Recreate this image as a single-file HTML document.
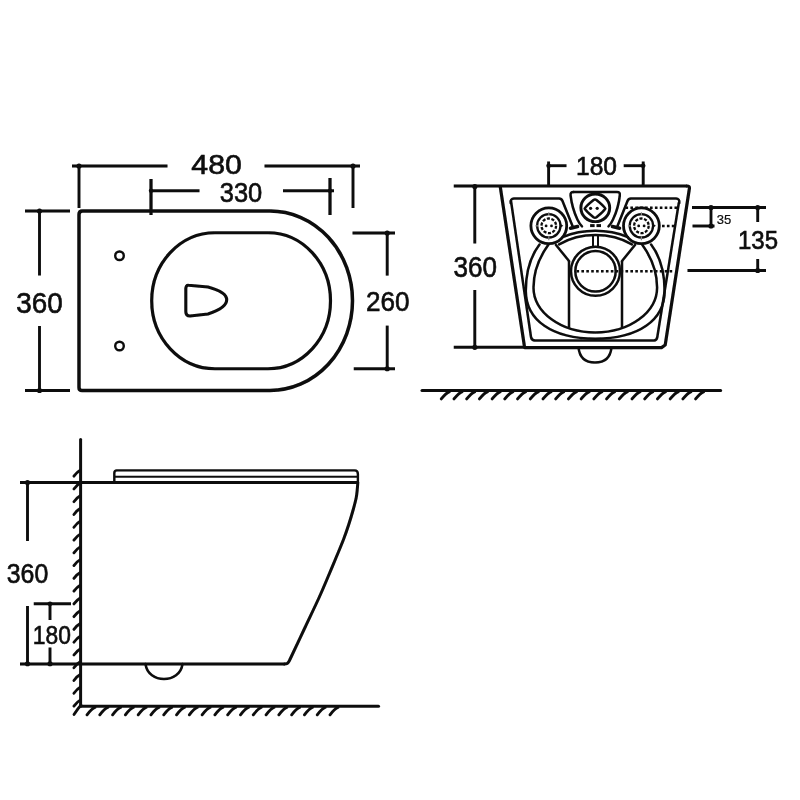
<!DOCTYPE html>
<html><head><meta charset="utf-8"><title>Wall hung toilet dimensions</title>
<style>
html,body{margin:0;padding:0;background:#fff;}
body{width:800px;height:800px;overflow:hidden;}
svg{display:block;will-change:transform;transform:translateZ(0);font-family:"Liberation Sans",Arial,Helvetica,sans-serif;}
</style></head><body>
<svg width="800" height="800" viewBox="0 0 800 800">
<defs><filter id="soft" x="0" y="0" width="800" height="800" filterUnits="userSpaceOnUse"><feGaussianBlur stdDeviation="0.45"/></filter></defs>
<rect width="800" height="800" fill="#ffffff"/>
<g filter="url(#soft)">
<path d="M82.5,211 L270,211 A82.5,89.75 0 0 1 270,390.5 L82,390.5 Q79,390.5 79,387.5 L79,214.5 Q79,211 82.5,211 Z" fill="none" stroke="#0a0a0a" stroke-width="3.5" stroke-linejoin="round" stroke-linecap="round" />
<path d="M215,232.75 L268,232.75 A62.5,68 0 0 1 268,368.75 L215,368.75 A63.3,68 0 0 1 215,232.75 Z" fill="none" stroke="#0a0a0a" stroke-width="3.2" stroke-linejoin="round" stroke-linecap="round" />
<path d="M188.5,285.3 L208,287 Q226.7,292 226.7,299.8 Q226.7,308 208,314 L190,316 Q185.8,316 185.8,311.5 L185.8,289 Q185.8,285 188.5,285.3 Z" fill="none" stroke="#0a0a0a" stroke-width="3.1" stroke-linejoin="round" stroke-linecap="round" />
<circle cx="119.5" cy="255.75" r="4.3" fill="none" stroke="#0a0a0a" stroke-width="2.4" />
<circle cx="119.5" cy="346" r="4.3" fill="none" stroke="#0a0a0a" stroke-width="2.4" />
<line x1="72" y1="166" x2="167.5" y2="166" stroke="#0a0a0a" stroke-width="2.9" stroke-linecap="butt"/>
<line x1="264.5" y1="166" x2="360" y2="166" stroke="#0a0a0a" stroke-width="2.9" stroke-linecap="butt"/>
<line x1="79" y1="166" x2="79" y2="208" stroke="#0a0a0a" stroke-width="2.9" stroke-linecap="butt"/>
<line x1="353" y1="166" x2="353" y2="208" stroke="#0a0a0a" stroke-width="2.9" stroke-linecap="butt"/>
<circle cx="79" cy="166" r="2.6" fill="#0a0a0a"/>
<circle cx="353" cy="166" r="2.6" fill="#0a0a0a"/>
<line x1="151" y1="190.75" x2="199.5" y2="190.75" stroke="#0a0a0a" stroke-width="2.9" stroke-linecap="butt"/>
<line x1="283" y1="190.75" x2="334" y2="190.75" stroke="#0a0a0a" stroke-width="2.9" stroke-linecap="butt"/>
<line x1="151" y1="179" x2="151" y2="215" stroke="#0a0a0a" stroke-width="3.2" stroke-linecap="butt"/>
<line x1="330" y1="178" x2="330" y2="215" stroke="#0a0a0a" stroke-width="3.2" stroke-linecap="butt"/>
<circle cx="151" cy="190.75" r="2.2" fill="#0a0a0a"/>
<circle cx="330" cy="190.75" r="2.2" fill="#0a0a0a"/>
<line x1="25" y1="211" x2="70" y2="211" stroke="#0a0a0a" stroke-width="2.9" stroke-linecap="butt"/>
<line x1="25" y1="390.5" x2="70" y2="390.5" stroke="#0a0a0a" stroke-width="2.9" stroke-linecap="butt"/>
<line x1="39.5" y1="211" x2="39.5" y2="275.5" stroke="#0a0a0a" stroke-width="2.9" stroke-linecap="butt"/>
<line x1="39.5" y1="326" x2="39.5" y2="390.5" stroke="#0a0a0a" stroke-width="2.9" stroke-linecap="butt"/>
<circle cx="39.5" cy="211" r="2.6" fill="#0a0a0a"/>
<circle cx="39.5" cy="390.5" r="2.6" fill="#0a0a0a"/>
<line x1="352.5" y1="233" x2="395" y2="233" stroke="#0a0a0a" stroke-width="2.9" stroke-linecap="butt"/>
<line x1="353.75" y1="368.75" x2="395" y2="368.75" stroke="#0a0a0a" stroke-width="2.9" stroke-linecap="butt"/>
<line x1="387.2" y1="233" x2="387.2" y2="275.6" stroke="#0a0a0a" stroke-width="2.9" stroke-linecap="butt"/>
<line x1="387.2" y1="325.6" x2="387.2" y2="368.75" stroke="#0a0a0a" stroke-width="2.9" stroke-linecap="butt"/>
<circle cx="387.2" cy="233" r="2.6" fill="#0a0a0a"/>
<circle cx="387.2" cy="368.75" r="2.6" fill="#0a0a0a"/>
<text x="216.6" y="174.2" font-size="27.5" text-anchor="middle" font-weight="normal" fill="#0a0a0a" stroke="#0a0a0a" stroke-width="0.6" textLength="50.5" lengthAdjust="spacingAndGlyphs">480</text>
<text x="241" y="202" font-size="28" text-anchor="middle" font-weight="normal" fill="#0a0a0a" stroke="#0a0a0a" stroke-width="0.6" textLength="42.5" lengthAdjust="spacingAndGlyphs">330</text>
<text x="39.4" y="313.0" font-size="30" text-anchor="middle" font-weight="normal" fill="#0a0a0a" stroke="#0a0a0a" stroke-width="0.6" textLength="46.5" lengthAdjust="spacingAndGlyphs">360</text>
<text x="387.8" y="311.2" font-size="28" text-anchor="middle" font-weight="normal" fill="#0a0a0a" stroke="#0a0a0a" stroke-width="0.6" textLength="43.5" lengthAdjust="spacingAndGlyphs">260</text>
<line x1="453.75" y1="186" x2="687" y2="186" stroke="#0a0a0a" stroke-width="3.0" stroke-linecap="butt"/>
<path d="M500.3,187 L524.6,347.6 L661.5,347.6 L665.2,345 L689.4,188.5 Q689.8,186 687,186" fill="none" stroke="#0a0a0a" stroke-width="3.2" stroke-linejoin="round" stroke-linecap="round" />
<line x1="453.75" y1="347.3" x2="524.4" y2="347.3" stroke="#0a0a0a" stroke-width="2.9" stroke-linecap="butt"/>
<path d="M511,201 L531,337 Q531.5,340.4 535,340.4 L654,340.4 Q656.8,340.4 657.3,337 L678.8,203" fill="none" stroke="#0a0a0a" stroke-width="2.5" stroke-linejoin="round" stroke-linecap="round" />
<path d="M510.7,203 Q510.2,198.5 514,198.5 L559,198.5 Q561.5,198.5 562.5,201 L572.5,226" fill="none" stroke="#0a0a0a" stroke-width="2.5" stroke-linejoin="round" stroke-linecap="round" />
<path d="M679.3,203 Q679.8,198.5 676,198.5 L631,198.5 Q628.5,198.5 627.5,201 L617.5,226" fill="none" stroke="#0a0a0a" stroke-width="2.5" stroke-linejoin="round" stroke-linecap="round" />
<line x1="570.5" y1="228.2" x2="577.5" y2="226.6" stroke="#0a0a0a" stroke-width="3.6" stroke-linecap="round"/>
<line x1="619.5" y1="228.2" x2="612.5" y2="226.6" stroke="#0a0a0a" stroke-width="3.6" stroke-linecap="round"/>
<path d="M573.5,191.9 L617,191.9 Q620.3,191.9 619.8,195.5 Q618.5,208 613,219.5 Q611,224 608.5,226.3" fill="none" stroke="#0a0a0a" stroke-width="2.5" stroke-linejoin="round" stroke-linecap="round" />
<path d="M573.5,191.9 Q570.2,191.9 570.6,195.5 Q572,208 577.4,219.5 Q579.5,224 582,226.3" fill="none" stroke="#0a0a0a" stroke-width="2.5" stroke-linejoin="round" stroke-linecap="round" />
<path d="M605.49,217.60 Q601.27,221.66 595.30,221.66 Q589.33,221.66 585.11,217.60 Q580.89,213.54 580.89,207.80 Q580.89,202.06 585.11,198.00 Q589.33,193.94 595.30,193.94 Q601.27,193.94 605.49,198.00 Q609.71,202.06 609.71,207.80 Q609.71,213.54 605.49,217.60 Z" fill="none" stroke="#0a0a0a" stroke-width="2.9" stroke-linejoin="round" stroke-linecap="round" />
<path d="M584.7,208.6 Q586.0,206.1 593.5,200.0 Q595.0,199.0 596.5,200.0 Q604.0,206.1 605.3,208.6 Q604.0,211.1 596.5,217.2 Q595.0,218.2 593.5,217.2 Q586.0,211.1 584.7,208.6 Z" fill="none" stroke="#0a0a0a" stroke-width="2.5" stroke-linejoin="round" stroke-linecap="round" />
<circle cx="590.6" cy="208.3" r="1.6" fill="#0a0a0a"/>
<circle cx="597.2" cy="208.3" r="1.6" fill="#0a0a0a"/>
<line x1="590.1" y1="225.6" x2="594.6" y2="225.6" stroke="#0a0a0a" stroke-width="3.0" stroke-linecap="butt"/>
<line x1="596.5" y1="225.6" x2="601" y2="225.6" stroke="#0a0a0a" stroke-width="3.0" stroke-linecap="butt"/>
<circle cx="548.8" cy="225.8" r="17.9" fill="none" stroke="#0a0a0a" stroke-width="2.8" />
<circle cx="548.8" cy="225.8" r="11.7" fill="none" stroke="#0a0a0a" stroke-width="2.3" />
<circle cx="548.8" cy="225.8" r="7.3" fill="none" stroke="#0a0a0a" stroke-width="2.3" stroke-dasharray="3.1 1.5"/>
<circle cx="546.0999999999999" cy="225.9" r="1.4" fill="#0a0a0a"/>
<circle cx="551.5" cy="225.9" r="1.4" fill="#0a0a0a"/>
<path d="M559.8,223.60000000000002 L563.3,225.8 L559.8,228.0 Z" fill="#0a0a0a"/>
<path d="M548.8,212.3 v3 M548.8,236.3 v4 M535.3,225.8 h3" stroke="#888" stroke-width="1.2" fill="none"/>
<circle cx="641.4" cy="225.8" r="17.9" fill="none" stroke="#0a0a0a" stroke-width="2.8" />
<circle cx="641.4" cy="225.8" r="11.7" fill="none" stroke="#0a0a0a" stroke-width="2.3" />
<circle cx="641.4" cy="225.8" r="7.3" fill="none" stroke="#0a0a0a" stroke-width="2.3" stroke-dasharray="3.1 1.5"/>
<circle cx="638.6999999999999" cy="225.9" r="1.4" fill="#0a0a0a"/>
<circle cx="644.1" cy="225.9" r="1.4" fill="#0a0a0a"/>
<path d="M652.4,223.60000000000002 L655.9,225.8 L652.4,228.0 Z" fill="#0a0a0a"/>
<path d="M641.4,212.3 v3 M641.4,236.3 v4 M627.9,225.8 h3" stroke="#888" stroke-width="1.2" fill="none"/>
<path d="M627.93,237.07 A69.5,53.6 0 0 0 562.67,237.07" fill="none" stroke="#0a0a0a" stroke-width="2.5" stroke-linejoin="round" stroke-linecap="round" />
<path d="M631.94,244.32 A62,48.8 0 0 0 559.06,244.32" fill="none" stroke="#0a0a0a" stroke-width="2.5" stroke-linejoin="round" stroke-linecap="round" />
<path d="M539.5,244.5 C530,257 525.8,274 525.8,291 C526,320.23 552.05,338.75 595.3,338.75 C638.54,338.75 664.5999999999999,320.23 664.5999999999999,291 C664.5999999999999,274 660.5999999999999,257 651.0999999999999,244.5" fill="none" stroke="#0a0a0a" stroke-width="2.5" stroke-linejoin="round" stroke-linecap="round" />
<path d="M548.5,244.5 C539.5,257 533.5,272 533.5,287.5 C533.5,312.35 560.92,332.5 595.3,332.5 C629.68,332.5 657.0999999999999,312.35 657.0999999999999,287.5 C657.0999999999999,272 651.0999999999999,257 642.0999999999999,244.5" fill="none" stroke="#0a0a0a" stroke-width="2.5" stroke-linejoin="round" stroke-linecap="round" />
<line x1="593" y1="235" x2="593" y2="246" stroke="#0a0a0a" stroke-width="2.0" stroke-linecap="butt"/>
<line x1="598" y1="235" x2="598" y2="246" stroke="#0a0a0a" stroke-width="2.0" stroke-linecap="butt"/>
<circle cx="595.5" cy="271.25" r="24.5" fill="none" stroke="#0a0a0a" stroke-width="2.5" />
<circle cx="595.5" cy="271.25" r="20.2" fill="none" stroke="#0a0a0a" stroke-width="2.5" />
<line x1="556" y1="245" x2="569" y2="261" stroke="#0a0a0a" stroke-width="2.5" stroke-linecap="round"/>
<line x1="635" y1="245" x2="622" y2="261" stroke="#0a0a0a" stroke-width="2.5" stroke-linecap="round"/>
<line x1="569" y1="261" x2="569" y2="327.8" stroke="#0a0a0a" stroke-width="2.5" stroke-linecap="butt"/>
<line x1="622" y1="261" x2="622" y2="327.8" stroke="#0a0a0a" stroke-width="2.5" stroke-linecap="butt"/>
<line x1="576.5" y1="271.25" x2="672.5" y2="271.25" stroke="#0a0a0a" stroke-width="2.6" stroke-dasharray="2.6 2.3"/>
<line x1="625.5" y1="207.8" x2="679" y2="207.8" stroke="#0a0a0a" stroke-width="2.6" stroke-dasharray="2.6 2.3"/>
<line x1="662" y1="226" x2="676" y2="226" stroke="#0a0a0a" stroke-width="2.6" stroke-dasharray="2.6 2.3"/>
<path d="M578.5,347.3 Q580,362.5 595,362.5 Q610,362.5 611.5,347.3" fill="none" stroke="#0a0a0a" stroke-width="2.5" stroke-linejoin="round" stroke-linecap="round" />
<line x1="548.6" y1="161.5" x2="548.6" y2="186" stroke="#0a0a0a" stroke-width="2.9" stroke-linecap="butt"/>
<line x1="643.2" y1="161.5" x2="643.2" y2="186" stroke="#0a0a0a" stroke-width="2.9" stroke-linecap="butt"/>
<line x1="548.6" y1="165.7" x2="566.5" y2="165.7" stroke="#0a0a0a" stroke-width="2.9" stroke-linecap="butt"/>
<line x1="623.7" y1="165.7" x2="643.2" y2="165.7" stroke="#0a0a0a" stroke-width="2.9" stroke-linecap="butt"/>
<circle cx="548.6" cy="165.7" r="2.3" fill="#0a0a0a"/>
<circle cx="643.2" cy="165.7" r="2.3" fill="#0a0a0a"/>
<line x1="474.8" y1="186" x2="474.8" y2="243.5" stroke="#0a0a0a" stroke-width="2.9" stroke-linecap="butt"/>
<line x1="474.8" y1="290" x2="474.8" y2="347.3" stroke="#0a0a0a" stroke-width="2.9" stroke-linecap="butt"/>
<circle cx="474.8" cy="186.5" r="2.6" fill="#0a0a0a"/>
<circle cx="474.8" cy="347.3" r="2.6" fill="#0a0a0a"/>
<line x1="692" y1="207.5" x2="766" y2="207.5" stroke="#0a0a0a" stroke-width="2.9" stroke-linecap="butt"/>
<line x1="692.5" y1="226" x2="714.5" y2="226" stroke="#0a0a0a" stroke-width="2.9" stroke-linecap="butt"/>
<line x1="687.5" y1="270.5" x2="766" y2="270.5" stroke="#0a0a0a" stroke-width="2.9" stroke-linecap="butt"/>
<line x1="711" y1="207.5" x2="711" y2="226" stroke="#0a0a0a" stroke-width="2.8" stroke-linecap="butt"/>
<circle cx="711" cy="207.5" r="2.6" fill="#0a0a0a"/>
<circle cx="711" cy="226" r="2.6" fill="#0a0a0a"/>
<line x1="757.7" y1="207.5" x2="757.7" y2="222" stroke="#0a0a0a" stroke-width="2.9" stroke-linecap="butt"/>
<line x1="757.7" y1="259" x2="757.7" y2="270.5" stroke="#0a0a0a" stroke-width="2.9" stroke-linecap="butt"/>
<circle cx="757.7" cy="207.5" r="2.6" fill="#0a0a0a"/>
<circle cx="757.7" cy="270.5" r="2.6" fill="#0a0a0a"/>
<text x="596.5" y="175.2" font-size="25.5" text-anchor="middle" font-weight="normal" fill="#0a0a0a" stroke="#0a0a0a" stroke-width="0.6" textLength="41" lengthAdjust="spacingAndGlyphs">180</text>
<text x="475.3" y="277.4" font-size="29" text-anchor="middle" font-weight="normal" fill="#0a0a0a" stroke="#0a0a0a" stroke-width="0.6" textLength="43.5" lengthAdjust="spacingAndGlyphs">360</text>
<text x="724" y="224.4" font-size="12" text-anchor="middle" font-weight="normal" fill="#0a0a0a" stroke="#0a0a0a" stroke-width="0.15" textLength="14.5" lengthAdjust="spacingAndGlyphs">35</text>
<text x="758" y="249.1" font-size="25.5" text-anchor="middle" font-weight="normal" fill="#0a0a0a" stroke="#0a0a0a" stroke-width="0.6" textLength="40" lengthAdjust="spacingAndGlyphs">135</text>
<line x1="422" y1="390.6" x2="720.6" y2="390.6" stroke="#0a0a0a" stroke-width="3.0" stroke-linecap="round"/>
<path d="M449.25,391.8 Q446.45,392.6 441.25,398.9" fill="none" stroke="#0a0a0a" stroke-width="2.9" stroke-linejoin="round" stroke-linecap="round" />
<path d="M461.97,391.8 Q459.17,392.6 453.97,398.9" fill="none" stroke="#0a0a0a" stroke-width="2.9" stroke-linejoin="round" stroke-linecap="round" />
<path d="M474.69,391.8 Q471.88,392.6 466.69,398.9" fill="none" stroke="#0a0a0a" stroke-width="2.9" stroke-linejoin="round" stroke-linecap="round" />
<path d="M487.40,391.8 Q484.60,392.6 479.40,398.9" fill="none" stroke="#0a0a0a" stroke-width="2.9" stroke-linejoin="round" stroke-linecap="round" />
<path d="M500.12,391.8 Q497.32,392.6 492.12,398.9" fill="none" stroke="#0a0a0a" stroke-width="2.9" stroke-linejoin="round" stroke-linecap="round" />
<path d="M512.84,391.8 Q510.04,392.6 504.84,398.9" fill="none" stroke="#0a0a0a" stroke-width="2.9" stroke-linejoin="round" stroke-linecap="round" />
<path d="M525.56,391.8 Q522.76,392.6 517.56,398.9" fill="none" stroke="#0a0a0a" stroke-width="2.9" stroke-linejoin="round" stroke-linecap="round" />
<path d="M538.27,391.8 Q535.47,392.6 530.27,398.9" fill="none" stroke="#0a0a0a" stroke-width="2.9" stroke-linejoin="round" stroke-linecap="round" />
<path d="M550.99,391.8 Q548.19,392.6 542.99,398.9" fill="none" stroke="#0a0a0a" stroke-width="2.9" stroke-linejoin="round" stroke-linecap="round" />
<path d="M563.71,391.8 Q560.91,392.6 555.71,398.9" fill="none" stroke="#0a0a0a" stroke-width="2.9" stroke-linejoin="round" stroke-linecap="round" />
<path d="M576.42,391.8 Q573.62,392.6 568.42,398.9" fill="none" stroke="#0a0a0a" stroke-width="2.9" stroke-linejoin="round" stroke-linecap="round" />
<path d="M589.14,391.8 Q586.34,392.6 581.14,398.9" fill="none" stroke="#0a0a0a" stroke-width="2.9" stroke-linejoin="round" stroke-linecap="round" />
<path d="M601.86,391.8 Q599.06,392.6 593.86,398.9" fill="none" stroke="#0a0a0a" stroke-width="2.9" stroke-linejoin="round" stroke-linecap="round" />
<path d="M614.58,391.8 Q611.78,392.6 606.58,398.9" fill="none" stroke="#0a0a0a" stroke-width="2.9" stroke-linejoin="round" stroke-linecap="round" />
<path d="M627.30,391.8 Q624.50,392.6 619.30,398.9" fill="none" stroke="#0a0a0a" stroke-width="2.9" stroke-linejoin="round" stroke-linecap="round" />
<path d="M640.01,391.8 Q637.21,392.6 632.01,398.9" fill="none" stroke="#0a0a0a" stroke-width="2.9" stroke-linejoin="round" stroke-linecap="round" />
<path d="M652.73,391.8 Q649.93,392.6 644.73,398.9" fill="none" stroke="#0a0a0a" stroke-width="2.9" stroke-linejoin="round" stroke-linecap="round" />
<path d="M665.45,391.8 Q662.65,392.6 657.45,398.9" fill="none" stroke="#0a0a0a" stroke-width="2.9" stroke-linejoin="round" stroke-linecap="round" />
<path d="M678.16,391.8 Q675.37,392.6 670.16,398.9" fill="none" stroke="#0a0a0a" stroke-width="2.9" stroke-linejoin="round" stroke-linecap="round" />
<path d="M690.88,391.8 Q688.08,392.6 682.88,398.9" fill="none" stroke="#0a0a0a" stroke-width="2.9" stroke-linejoin="round" stroke-linecap="round" />
<path d="M703.60,391.8 Q700.80,392.6 695.60,398.9" fill="none" stroke="#0a0a0a" stroke-width="2.9" stroke-linejoin="round" stroke-linecap="round" />
<line x1="80.6" y1="439.5" x2="80.6" y2="706" stroke="#0a0a0a" stroke-width="3.0" stroke-linecap="round"/>
<line x1="80.6" y1="706.2" x2="378.5" y2="706.2" stroke="#0a0a0a" stroke-width="3.0" stroke-linecap="round"/>
<path d="M80.6,470.00 Q77,472.00 73.9,476.20" fill="none" stroke="#0a0a0a" stroke-width="2.8" stroke-linejoin="round" stroke-linecap="round" />
<path d="M80.6,482.77 Q77,484.77 73.9,488.97" fill="none" stroke="#0a0a0a" stroke-width="2.8" stroke-linejoin="round" stroke-linecap="round" />
<path d="M80.6,495.54 Q77,497.54 73.9,501.74" fill="none" stroke="#0a0a0a" stroke-width="2.8" stroke-linejoin="round" stroke-linecap="round" />
<path d="M80.6,508.31 Q77,510.31 73.9,514.51" fill="none" stroke="#0a0a0a" stroke-width="2.8" stroke-linejoin="round" stroke-linecap="round" />
<path d="M80.6,521.08 Q77,523.08 73.9,527.28" fill="none" stroke="#0a0a0a" stroke-width="2.8" stroke-linejoin="round" stroke-linecap="round" />
<path d="M80.6,533.85 Q77,535.85 73.9,540.05" fill="none" stroke="#0a0a0a" stroke-width="2.8" stroke-linejoin="round" stroke-linecap="round" />
<path d="M80.6,546.62 Q77,548.62 73.9,552.82" fill="none" stroke="#0a0a0a" stroke-width="2.8" stroke-linejoin="round" stroke-linecap="round" />
<path d="M80.6,559.39 Q77,561.39 73.9,565.59" fill="none" stroke="#0a0a0a" stroke-width="2.8" stroke-linejoin="round" stroke-linecap="round" />
<path d="M80.6,572.16 Q77,574.16 73.9,578.36" fill="none" stroke="#0a0a0a" stroke-width="2.8" stroke-linejoin="round" stroke-linecap="round" />
<path d="M80.6,584.93 Q77,586.93 73.9,591.13" fill="none" stroke="#0a0a0a" stroke-width="2.8" stroke-linejoin="round" stroke-linecap="round" />
<path d="M80.6,597.70 Q77,599.70 73.9,603.90" fill="none" stroke="#0a0a0a" stroke-width="2.8" stroke-linejoin="round" stroke-linecap="round" />
<path d="M80.6,610.47 Q77,612.47 73.9,616.67" fill="none" stroke="#0a0a0a" stroke-width="2.8" stroke-linejoin="round" stroke-linecap="round" />
<path d="M80.6,623.24 Q77,625.24 73.9,629.44" fill="none" stroke="#0a0a0a" stroke-width="2.8" stroke-linejoin="round" stroke-linecap="round" />
<path d="M80.6,636.01 Q77,638.01 73.9,642.21" fill="none" stroke="#0a0a0a" stroke-width="2.8" stroke-linejoin="round" stroke-linecap="round" />
<path d="M80.6,648.78 Q77,650.78 73.9,654.98" fill="none" stroke="#0a0a0a" stroke-width="2.8" stroke-linejoin="round" stroke-linecap="round" />
<path d="M80.6,661.55 Q77,663.55 73.9,667.75" fill="none" stroke="#0a0a0a" stroke-width="2.8" stroke-linejoin="round" stroke-linecap="round" />
<path d="M80.6,674.32 Q77,676.32 73.9,680.52" fill="none" stroke="#0a0a0a" stroke-width="2.8" stroke-linejoin="round" stroke-linecap="round" />
<path d="M80.6,687.09 Q77,689.09 73.9,693.29" fill="none" stroke="#0a0a0a" stroke-width="2.8" stroke-linejoin="round" stroke-linecap="round" />
<path d="M80.6,699.86 Q77,701.86 73.9,706.06" fill="none" stroke="#0a0a0a" stroke-width="2.8" stroke-linejoin="round" stroke-linecap="round" />
<path d="M81,705 Q77.5,709 74,714.6" fill="none" stroke="#0a0a0a" stroke-width="2.8" stroke-linejoin="round" stroke-linecap="round" />
<path d="M95.00,707.4 Q92.20,708.2 87.00,714.8" fill="none" stroke="#0a0a0a" stroke-width="2.9" stroke-linejoin="round" stroke-linecap="round" />
<path d="M107.79,707.4 Q104.99,708.2 99.79,714.8" fill="none" stroke="#0a0a0a" stroke-width="2.9" stroke-linejoin="round" stroke-linecap="round" />
<path d="M120.58,707.4 Q117.78,708.2 112.58,714.8" fill="none" stroke="#0a0a0a" stroke-width="2.9" stroke-linejoin="round" stroke-linecap="round" />
<path d="M133.37,707.4 Q130.57,708.2 125.37,714.8" fill="none" stroke="#0a0a0a" stroke-width="2.9" stroke-linejoin="round" stroke-linecap="round" />
<path d="M146.16,707.4 Q143.36,708.2 138.16,714.8" fill="none" stroke="#0a0a0a" stroke-width="2.9" stroke-linejoin="round" stroke-linecap="round" />
<path d="M158.95,707.4 Q156.15,708.2 150.95,714.8" fill="none" stroke="#0a0a0a" stroke-width="2.9" stroke-linejoin="round" stroke-linecap="round" />
<path d="M171.74,707.4 Q168.94,708.2 163.74,714.8" fill="none" stroke="#0a0a0a" stroke-width="2.9" stroke-linejoin="round" stroke-linecap="round" />
<path d="M184.53,707.4 Q181.73,708.2 176.53,714.8" fill="none" stroke="#0a0a0a" stroke-width="2.9" stroke-linejoin="round" stroke-linecap="round" />
<path d="M197.32,707.4 Q194.52,708.2 189.32,714.8" fill="none" stroke="#0a0a0a" stroke-width="2.9" stroke-linejoin="round" stroke-linecap="round" />
<path d="M210.11,707.4 Q207.31,708.2 202.11,714.8" fill="none" stroke="#0a0a0a" stroke-width="2.9" stroke-linejoin="round" stroke-linecap="round" />
<path d="M222.89,707.4 Q220.09,708.2 214.89,714.8" fill="none" stroke="#0a0a0a" stroke-width="2.9" stroke-linejoin="round" stroke-linecap="round" />
<path d="M235.68,707.4 Q232.88,708.2 227.68,714.8" fill="none" stroke="#0a0a0a" stroke-width="2.9" stroke-linejoin="round" stroke-linecap="round" />
<path d="M248.47,707.4 Q245.67,708.2 240.47,714.8" fill="none" stroke="#0a0a0a" stroke-width="2.9" stroke-linejoin="round" stroke-linecap="round" />
<path d="M261.26,707.4 Q258.46,708.2 253.26,714.8" fill="none" stroke="#0a0a0a" stroke-width="2.9" stroke-linejoin="round" stroke-linecap="round" />
<path d="M274.05,707.4 Q271.25,708.2 266.05,714.8" fill="none" stroke="#0a0a0a" stroke-width="2.9" stroke-linejoin="round" stroke-linecap="round" />
<path d="M286.84,707.4 Q284.04,708.2 278.84,714.8" fill="none" stroke="#0a0a0a" stroke-width="2.9" stroke-linejoin="round" stroke-linecap="round" />
<path d="M299.63,707.4 Q296.83,708.2 291.63,714.8" fill="none" stroke="#0a0a0a" stroke-width="2.9" stroke-linejoin="round" stroke-linecap="round" />
<path d="M312.42,707.4 Q309.62,708.2 304.42,714.8" fill="none" stroke="#0a0a0a" stroke-width="2.9" stroke-linejoin="round" stroke-linecap="round" />
<path d="M325.21,707.4 Q322.41,708.2 317.21,714.8" fill="none" stroke="#0a0a0a" stroke-width="2.9" stroke-linejoin="round" stroke-linecap="round" />
<path d="M338.00,707.4 Q335.20,708.2 330.00,714.8" fill="none" stroke="#0a0a0a" stroke-width="2.9" stroke-linejoin="round" stroke-linecap="round" />
<line x1="20" y1="482.5" x2="357.5" y2="482.5" stroke="#0a0a0a" stroke-width="2.9" stroke-linecap="butt"/>
<path d="M114.3,482.5 L114.3,473 Q114.3,470.4 117,470.4 L354.5,470.4 Q357.9,470.4 357.9,474 L357.9,482.5" fill="none" stroke="#0a0a0a" stroke-width="2.4" stroke-linejoin="round" stroke-linecap="round" />
<line x1="115" y1="476.7" x2="358" y2="476.7" stroke="#0a0a0a" stroke-width="2.0" stroke-linecap="butt"/>
<path d="M357.8,482.5 C357.72,483.58 357.56,486.50 357.3,489 C357.04,491.50 356.93,494.08 356.25,497.5 C355.57,500.92 354.50,505.00 353.25,509.5 C352.00,514.00 350.38,519.50 348.75,524.5 C347.12,529.50 345.50,534.25 343.5,539.5 C341.50,544.75 339.38,549.67 336.75,556 C334.12,562.33 330.71,570.54 327.75,577.5 C324.79,584.46 322.79,589.42 319,597.75 C315.21,606.08 309.67,617.58 305,627.5 C300.33,637.42 293.67,651.62 291,657.25 C288.33,662.88 289.33,660.62 289,661.3 Q287.7,664 284.5,664" fill="none" stroke="#0a0a0a" stroke-width="3.0" stroke-linejoin="round" stroke-linecap="round" />
<line x1="20" y1="663.9" x2="285" y2="663.9" stroke="#0a0a0a" stroke-width="3.0" stroke-linecap="butt"/>
<path d="M145.5,664 C148,684 180,684 182.5,664" fill="none" stroke="#0a0a0a" stroke-width="2.5" stroke-linejoin="round" stroke-linecap="round" />
<line x1="27.5" y1="482.5" x2="27.5" y2="541" stroke="#0a0a0a" stroke-width="2.9" stroke-linecap="butt"/>
<line x1="27.5" y1="606" x2="27.5" y2="663.75" stroke="#0a0a0a" stroke-width="2.9" stroke-linecap="butt"/>
<circle cx="27.5" cy="482.5" r="2.6" fill="#0a0a0a"/>
<circle cx="27.5" cy="663.75" r="2.6" fill="#0a0a0a"/>
<line x1="33.75" y1="603.8" x2="71" y2="603.8" stroke="#0a0a0a" stroke-width="2.9" stroke-linecap="butt"/>
<line x1="50" y1="603.8" x2="50" y2="620" stroke="#0a0a0a" stroke-width="2.9" stroke-linecap="butt"/>
<line x1="50" y1="647.5" x2="50" y2="663.75" stroke="#0a0a0a" stroke-width="2.9" stroke-linecap="butt"/>
<circle cx="50" cy="603.8" r="2.3" fill="#0a0a0a"/>
<circle cx="50" cy="663.75" r="2.6" fill="#0a0a0a"/>
<text x="27.5" y="582.6" font-size="27" text-anchor="middle" font-weight="normal" fill="#0a0a0a" stroke="#0a0a0a" stroke-width="0.6" textLength="41.5" lengthAdjust="spacingAndGlyphs">360</text>
<text x="51.8" y="643.8" font-size="25.5" text-anchor="middle" font-weight="normal" fill="#0a0a0a" stroke="#0a0a0a" stroke-width="0.6" textLength="38" lengthAdjust="spacingAndGlyphs">180</text>
</g>
</svg>
</body></html>
